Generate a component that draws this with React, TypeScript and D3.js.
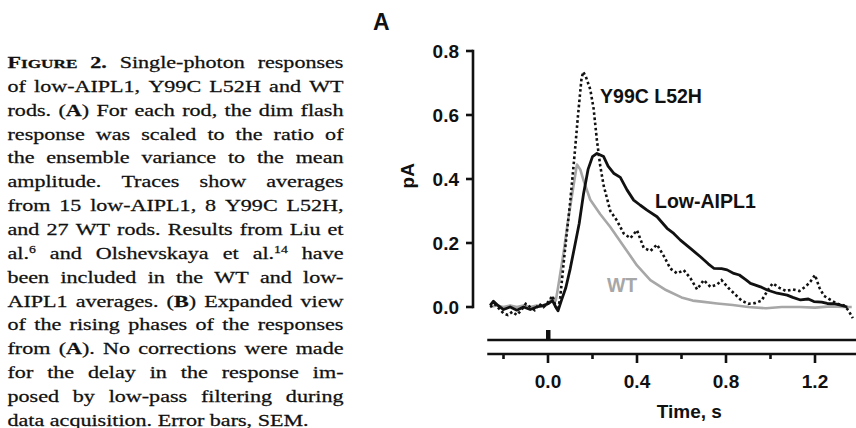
import React, { useMemo } from "react";
import * as d3 from "d3";

const W = 856;
const H = 428;

// Caption (markup: *bold*, ~small caps bold~, ^superscript)
const captionLines: string[] = [
  "*F*~IGURE~ *2.* Single-photon responses",
  "of low-AIPL1, Y99C L52H and WT",
  "rods. (*A*) For each rod, the dim flash",
  "response was scaled to the ratio of",
  "the ensemble variance to the mean",
  "amplitude. Traces show averages",
  "from 15 low-AIPL1, 8 Y99C L52H,",
  "and 27 WT rods. Results from Liu et",
  "al.^6 and Olshevskaya et al.^14 have",
  "been included in the WT and low-",
  "AIPL1 averages. (*B*) Expanded view",
  "of the rising phases of the responses",
  "from (*A*). No corrections were made",
  "for the delay in the response im-",
  "posed by low-pass filtering during",
  "data acquisition. Error bars, SEM.",
];

const panelLabel = "A";
const yTicks = [0, 0.2, 0.4, 0.6, 0.8];
const xTicks = [-0.2, 0, 0.2, 0.4, 0.6, 0.8, 1.0, 1.2];
const xTickLabels = [0, 0.4, 0.8, 1.2];
const flashTimes = [0];

// [time (s), current (pA)]
const wt: [number, number][] = [
  [-0.26, 0], [-0.23, 0.005], [-0.2, 0], [-0.17, 0.005], [-0.14, 0], [-0.11, 0.005], [-0.08, 0],
  [-0.05, 0.005], [-0.02, 0], [0, 0.01], [0.02, 0.03], [0.035, 0.02], [0.045, 0.06], [0.07, 0.17],
  [0.09, 0.27], [0.115, 0.38], [0.13, 0.445], [0.145, 0.43], [0.16, 0.395], [0.19, 0.335],
  [0.235, 0.29], [0.28, 0.25], [0.34, 0.19], [0.4, 0.13], [0.46, 0.084], [0.53, 0.053], [0.6, 0.03],
  [0.65, 0.02], [0.7, 0.016], [0.76, 0.011], [0.83, 0.006], [0.9, 0], [0.98, -0.004], [1.05, 0],
  [1.13, 0], [1.2, -0.002], [1.27, 0.002], [1.33, 0], [1.365, 0],
];

const y99cL52h: [number, number][] = [
  [-0.26, 0], [-0.24, 0.01], [-0.22, -0.005], [-0.2, -0.02], [-0.18, -0.025], [-0.16, -0.015],
  [-0.14, -0.025], [-0.12, -0.01], [-0.1, 0.01], [-0.08, 0], [-0.06, -0.01], [-0.04, 0.01], [-0.02, 0],
  [0, 0.015], [0.02, 0.035], [0.035, 0], [0.045, -0.01], [0.055, 0.03], [0.075, 0.17], [0.1, 0.33],
  [0.12, 0.48], [0.135, 0.6], [0.15, 0.71], [0.158, 0.735], [0.17, 0.72], [0.19, 0.68], [0.205, 0.62],
  [0.22, 0.52], [0.235, 0.44], [0.25, 0.38], [0.28, 0.3], [0.31, 0.27], [0.34, 0.23], [0.37, 0.215],
  [0.4, 0.24], [0.43, 0.185], [0.46, 0.175], [0.49, 0.195], [0.52, 0.16], [0.55, 0.12], [0.58, 0.105],
  [0.61, 0.115], [0.64, 0.09], [0.67, 0.055], [0.7, 0.084], [0.73, 0.063], [0.76, 0.07], [0.78, 0.084],
  [0.81, 0.06], [0.84, 0.04], [0.87, 0.02], [0.9, 0.01], [0.93, 0.012], [0.96, 0.02], [0.99, 0.055],
  [1.01, 0.074], [1.04, 0.06], [1.07, 0.05], [1.1, 0.055], [1.13, 0.05], [1.16, 0.065], [1.18, 0.08],
  [1.2, 0.1], [1.22, 0.06], [1.24, 0.035], [1.27, 0.022], [1.3, 0.01], [1.33, 0.005], [1.35, -0.01],
  [1.37, -0.035],
];

const lowAipl1: [number, number][] = [
  [-0.26, 0.005], [-0.245, 0.018], [-0.225, 0.005], [-0.2, -0.008], [-0.17, 0], [-0.14, -0.01],
  [-0.11, 0], [-0.08, -0.008], [-0.05, 0], [-0.02, 0.005], [0, 0.01], [0.02, 0.02], [0.035, 0],
  [0.045, -0.012], [0.06, 0.02], [0.08, 0.06], [0.1, 0.12], [0.12, 0.19], [0.14, 0.26], [0.16, 0.355],
  [0.18, 0.43], [0.2, 0.47], [0.22, 0.48], [0.25, 0.47], [0.27, 0.44], [0.295, 0.418], [0.325, 0.405],
  [0.355, 0.366], [0.385, 0.334], [0.415, 0.318], [0.445, 0.303], [0.49, 0.282], [0.535, 0.246],
  [0.565, 0.23], [0.595, 0.209], [0.64, 0.183], [0.685, 0.157], [0.72, 0.135], [0.745, 0.121],
  [0.78, 0.12], [0.805, 0.116], [0.835, 0.105], [0.86, 0.1], [0.89, 0.085], [0.91, 0.074],
  [0.955, 0.063], [0.985, 0.053], [1.03, 0.043], [1.075, 0.037], [1.1, 0.03], [1.135, 0.022],
  [1.17, 0.025], [1.195, 0.017], [1.23, 0.015], [1.255, 0.011], [1.29, 0.01], [1.315, 0.006],
  [1.345, 0],
];

const seriesLabels = ["Y99C L52H", "Low-AIPL1", "WT"];

const SERIF = "'Liberation Serif', 'Times New Roman', serif";
const SANS = "'Liberation Sans', Arial, Helvetica, sans-serif";
const CAP_SIZE = 16;
const CAP_SX = 1.38;
const GRAY = "#a7a7a7";

type Seg = { text: string; bold: boolean; size: number; sup: boolean };

function parseWord(w: string): Seg[] {
  const re = /\*([^*]+)\*|~([^~]+)~|\^(\w+)|([^*~^]+)/g;
  const out: Seg[] = [];
  let m: RegExpExecArray | null;
  while ((m = re.exec(w))) {
    if (m[1]) out.push({ text: m[1], bold: true, size: CAP_SIZE, sup: false });
    else if (m[2]) out.push({ text: m[2], bold: true, size: CAP_SIZE * 0.78, sup: false });
    else if (m[3]) out.push({ text: m[3], bold: false, size: CAP_SIZE * 0.62, sup: true });
    else if (m[4]) out.push({ text: m[4], bold: false, size: CAP_SIZE, sup: false });
  }
  return out;
}

function Caption() {
  const layout = useMemo(() => {
    const canvas = document.createElement("canvas");
    const ctx = canvas.getContext("2d")!;
    const measure = (s: Seg) => {
      ctx.font = `${s.bold ? "bold " : ""}${s.size}px ${SERIF}`;
      return ctx.measureText(s.text).width;
    };
    ctx.font = `${CAP_SIZE}px ${SERIF}`;
    const space = ctx.measureText(" ").width * CAP_SX;
    const left = 7.5;
    const right = 343.5;
    return captionLines.map((line, i) => {
      const words = line.split(" ").map((w) => {
        const segs = parseWord(w);
        const wd = segs.reduce((a, s) => a + measure(s), 0) * CAP_SX;
        return { segs, wd };
      });
      const total = words.reduce((a, w) => a + w.wd, 0);
      const last = i === captionLines.length - 1;
      const gap = last || words.length < 2 ? space : (right - left - total) / (words.length - 1);
      let x = left;
      const placed = words.map((w) => {
        const p = { ...w, x };
        x += w.wd + gap;
        return p;
      });
      return { y: 68 + i * 23.85, words: placed };
    });
  }, []);

  return (
    <g fill="#111" stroke="#111" strokeWidth={0.25} fontFamily={SERIF}>
      {layout.map((ln, i) =>
        ln.words.map((w, j) => (
          <text key={`${i}-${j}`} transform={`translate(${w.x},${ln.y}) scale(${CAP_SX},1)`}>
            {w.segs.map((s, k) => (
              <tspan
                key={k}
                fontSize={s.size}
                fontWeight={s.bold ? 700 : 400}
                dy={s.sup ? -6 : 0}
              >
                {s.text}
              </tspan>
            ))}
          </text>
        ))
      )}
    </g>
  );
}

export default function App() {
  const x = d3.scaleLinear().domain([0, 1.2]).range([548, 815]);
  const y = d3.scaleLinear().domain([0, 0.8]).range([307, 51]);
  const line = d3
    .line<[number, number]>()
    .x((d) => x(d[0]))
    .y((d) => y(d[1]));

  const axisX0 = 473;
  const traceLeft = x(-0.273);
  const stimY = 340;
  const axisY = 354;
  const lw = 2.6;

  return (
    <svg
      width={W}
      height={H}
      style={{ position: "absolute", left: 0, top: 0, background: "#fff" }}
    >
      <rect width={W} height={H} fill="#fff" />
      <Caption />

      {/* Panel label */}
      <text x={373} y={30} fontFamily={SANS} fontWeight={700} fontSize={23} fill="#111">
        {panelLabel}
      </text>

      {/* Y axis */}
      <g stroke="#111" strokeWidth={lw}>
        <line x1={axisX0} x2={axisX0} y1={y(0.8) - lw / 2} y2={y(0) + lw / 2} />
        {yTicks.map((t) => (
          <line key={t} x1={axisX0 - 7} x2={axisX0} y1={y(t)} y2={y(t)} />
        ))}
      </g>
      <g fontFamily={SANS} fontWeight={700} fontSize={19} fill="#111" textAnchor="end">
        {yTicks.map((t) => (
          <text key={t} x={459} y={y(t)} dy="0.36em">
            {t.toFixed(1)}
          </text>
        ))}
      </g>
      <text
        transform={`translate(414,${y(0.41)}) rotate(-90)`}
        textAnchor="middle"
        fontFamily={SANS}
        fontWeight={700}
        fontSize={19}
        fill="#111"
      >
        pA
      </text>

      {/* Traces */}
      <path d={line(wt) ?? ""} fill="none" stroke={GRAY} strokeWidth={2.6} strokeLinejoin="round" />
      <path
        d={line(y99cL52h) ?? ""}
        fill="none"
        stroke="#111"
        strokeWidth={2.6}
        strokeDasharray="2.6 2.6"
      />
      <path d={line(lowAipl1) ?? ""} fill="none" stroke="#111" strokeWidth={2.8} strokeLinejoin="round" />

      {/* Series labels */}
      <g fontFamily={SANS} fontWeight={700} fontSize={19.5}>
        <text x={x(0.234)} y={y(0.6375)} fill="#111">
          {seriesLabels[0]}
        </text>
        <text x={x(0.481)} y={y(0.309)} fill="#111">
          {seriesLabels[1]}
        </text>
        <text x={x(0.265)} y={y(0.047)} fill={GRAY}>
          {seriesLabels[2]}
        </text>
      </g>

      {/* Stimulus monitor */}
      <g stroke="#111" strokeWidth={lw}>
        <line x1={traceLeft} x2={W} y1={stimY} y2={stimY} />
      </g>
      {flashTimes.map((t) => (
        <rect key={t} x={x(t) - 2} y={stimY - 10} width={4.5} height={10} fill="#111" />
      ))}

      {/* X axis */}
      <g stroke="#111" strokeWidth={lw}>
        <line x1={traceLeft} x2={W} y1={axisY} y2={axisY} />
        {xTicks.map((t) => {
          const major = xTickLabels.some((v) => Math.abs(v - t) < 1e-9);
          return <line key={t} x1={x(t)} x2={x(t)} y1={axisY} y2={axisY + (major ? 9 : 5)} />;
        })}
      </g>
      <g fontFamily={SANS} fontWeight={700} fontSize={19} fill="#111" textAnchor="middle">
        {xTickLabels.map((t) => (
          <text key={t} x={x(t)} y={388}>
            {t.toFixed(1)}
          </text>
        ))}
        <text x={x(0.635)} y={418}>
          Time, s
        </text>
      </g>
    </svg>
  );
}
